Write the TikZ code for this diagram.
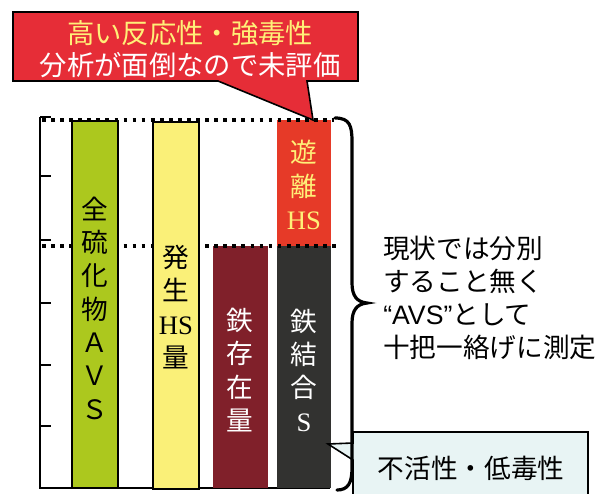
\documentclass[tikz,border=0pt]{standalone}
\usepackage{fontspec}
\setmainfont{Liberation Serif}
\newfontfamily\jp{Noto Sans CJK JP}
\newfontfamily\lat{Liberation Sans}
\definecolor{barGreen}{RGB}{172,200,30}
\definecolor{barYellow}{RGB}{250,240,120}
\definecolor{barMaroon}{RGB}{128,32,42}
\definecolor{barRed}{RGB}{230,58,40}
\definecolor{barDark}{RGB}{50,50,48}
\definecolor{calloutRed}{RGB}{230,45,55}
\definecolor{textYellow}{RGB}{255,240,120}
\definecolor{boxBlue}{RGB}{232,244,244}
\tikzset{
  axisline/.style={line width=1.5pt, black},
  dotline/.style={line width=2.8pt, black, dash pattern=on 2.8pt off 4pt},
  borderbar/.style={draw=black, line width=1.2pt},
  stacktext/.style={font=\jp\fontsize{20pt}{25pt}\selectfont, align=center, inner sep=0pt},
  bracestyle/.style={line width=2.4pt, black, line cap=round},
  calloutborder/.style={draw=black, line width=1.2pt, line join=miter},
}
\begin{document}
\begin{tikzpicture}[x=0.75pt,y=-0.75pt]
\useasboundingbox (0,0) rectangle (606,493);
% axis
\draw[axisline] (40,117) -- (40,488) -- (330,488);
\foreach \ty in {117,176,240,303,365,426} \draw[axisline] (40,\ty) -- (51,\ty);
% bars behind the lines
\path[fill=barMaroon] (213,246) rectangle (268,488);
\path[fill=barRed] (277,120) rectangle (331,246);
\path[fill=barDark] (277,246) rectangle (331,488);
% dotted lines
\draw[dotline] (42,120) -- (334,120);
\draw[dotline] (42,246) -- (340,246);
% bordered bars in front
\path[fill=barGreen, borderbar] (72,121) rectangle (118,488);
\path[fill=barYellow, borderbar] (153,122) rectangle (199,489);
% bar texts
\node[stacktext] (tavs) at (95,308) {全\\硫\\化\\物\\Ａ\\Ｖ\\Ｓ};
\node[stacktext] (ths) at (176,307) {発\\生\\{\rmfamily HS}\\量};
\node[stacktext, text=white] (tfe) at (240,370) {鉄\\存\\在\\量};
\node[stacktext, text=white] (tfs) at (304,370) {鉄\\結\\合\\{\rmfamily S}};
\node[stacktext, text=textYellow] (tfree) at (304,185) {遊\\離\\{\rmfamily HS}};
% top callout
\coordinate (tipTop) at (313,120);
\path[fill=calloutRed, calloutborder] (13,12) -- (358,12) -- (358,81) -- (307,81) -- (tipTop) -- (218,81) -- (13,81) -- cycle;
\node[font=\jp\fontsize{20.5pt}{24pt}\selectfont, text=textYellow, inner sep=0pt] (c1) at (190,33) {高い反応性・強毒性};
\node[font=\jp\fontsize{20.5pt}{24pt}\selectfont, text=white, inner sep=0pt] (c2) at (190,65) {分析が面倒なので未評価};
% bottom callout
\coordinate (tipBot) at (328,444);
\path[fill=boxBlue, calloutborder] (353,443) -- (353,432) -- (588,432) -- (588,498) -- (353,498) -- (353,460) -- (tipBot) -- cycle;
\node[font=\jp\fontsize{20pt}{24pt}\selectfont, inner sep=0pt] (inert) at (471,468) {不活性・低毒性};
% brace
\coordinate (bTop) at (335,118);
\coordinate (bTip) at (367,303);
\coordinate (bBot) at (337,490);
\draw[bracestyle] (bTop) .. controls (350,118) and (352,126) .. (352,142) -- (352,283)
  .. controls (352,296) and (357,302) .. (bTip)
  .. controls (357,304) and (352,310) .. (352,323) -- (352,468)
  .. controls (352,483) and (348,490) .. (bBot);
% right text
\node[font=\jp\fontsize{20pt}{24.8pt}\selectfont, align=left, anchor=west, inner sep=0pt] (note) at (383,298)
  {現状では分別\\すること無く\\{\lat “AVS”}として\\十把一絡げに測定};
\end{tikzpicture}
\end{document}
